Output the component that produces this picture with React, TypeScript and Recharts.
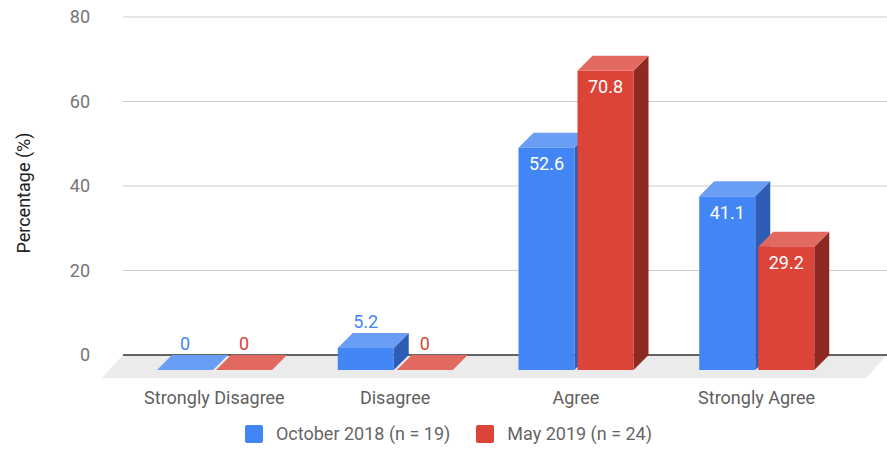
import React from 'react';
import { BarChart, Bar, XAxis, YAxis, CartesianGrid, LabelList } from 'recharts';

const categories = ['Strongly Disagree', 'Disagree', 'Agree', 'Strongly Agree'];
const october2018 = [0, 5.2, 52.6, 41.1];
const may2019 = [0, 0, 70.8, 29.2];
const yTicks = [0, 20, 40, 60, 80];

const SERIES = [
  { key: 'oct', name: 'October 2018 (n = 19)', front: '#4285f4', top: '#6a9ef6', side: '#2f5cb4' },
  { key: 'may', name: 'May 2019 (n = 24)', front: '#db4437', top: '#e2695f', side: '#8e2a22' },
];

const W = 887;
const H = 450;
const TOP = 17;
const Y_AXIS_W = 123;
const X_AXIS_H = 95;
const PLOT_BOTTOM = H - X_AXIS_H;
const DEPTH = 15; // 3D offset of a bar's front face
const FLOOR_DX = 21;
const FLOOR_DY = 23;
const FONT = 'Roboto, Arial, sans-serif';

const data = categories.map((name, i) => ({ name, oct: october2018[i], may: may2019[i] }));

// front face + top + right side, from the back-face rect recharts hands us
function makeBox(s: typeof SERIES[number]) {
  return (props: any) => {
    const { x, y, width: w, height: h } = props;
    if (x == null || y == null) return null;
    const d = DEPTH;
    return (
      <g>
        {h > 0 && (
          <polygon
            points={`${x - d + w},${y + d} ${x + w},${y} ${x + w},${y + h} ${x - d + w},${y + h + d}`}
            fill={s.side}
          />
        )}
        <polygon points={`${x - d},${y + d} ${x - d + w},${y + d} ${x + w},${y} ${x},${y}`} fill={s.top} />
        {h > 0 && <rect x={x - d} y={y + d} width={w} height={h} fill={s.front} />}
      </g>
    );
  };
}

function makeLabel(s: typeof SERIES[number]) {
  return (props: any) => {
    const { x, y, width, value } = props;
    const cx = x - DEPTH + width / 2;
    const inside = value >= 10;
    return (
      <text
        x={cx}
        y={inside ? y + DEPTH + 16 : y - 12}
        textAnchor="middle"
        dominantBaseline="central"
        fill={inside ? '#ffffff' : s.front}
        fontSize={18}
        fontFamily={FONT}
      >
        {value}
      </text>
    );
  };
}

const CategoryTick = (props: any) => {
  const { x, y, payload } = props;
  return (
    <text
      x={x - DEPTH}
      y={y + 42}
      textAnchor="middle"
      dominantBaseline="central"
      fill="#5f5f5f"
      fontSize={18}
      fontFamily={FONT}
    >
      {payload.value}
    </text>
  );
};

// gridlines; the baseline (0) is drawn dark
const GridLine = (props: any) => {
  const { x1, y1, x2, y2 } = props;
  const isBase = Math.abs(y1 - PLOT_BOTTOM) < 1;
  return (
    <line
      x1={x1}
      y1={y1}
      x2={x2}
      y2={y2}
      stroke={isBase ? '#333333' : '#cccccc'}
      strokeWidth={isBase ? 1.3 : 1}
    />
  );
};

export default function App() {
  return (
    <div style={{ position: 'absolute', left: 0, top: 0, width: W, height: H, fontFamily: FONT }}>
      {/* floor under the bars */}
      <svg width={W} height={H} style={{ position: 'absolute', left: 0, top: 0 }}>
        <polygon
          points={`${Y_AXIS_W},${PLOT_BOTTOM} ${W},${PLOT_BOTTOM} ${W - FLOOR_DX},${PLOT_BOTTOM + FLOOR_DY} ${Y_AXIS_W - FLOOR_DX},${PLOT_BOTTOM + FLOOR_DY}`}
          fill="#ebebeb"
        />
      </svg>
      <div style={{ position: 'absolute', left: 0, top: 0 }}>
        <BarChart
          width={W}
          height={H}
          data={data}
          margin={{ top: TOP, right: 0, left: 0, bottom: 0 }}
          barSize={56}
          barGap={3}
        >
          <CartesianGrid vertical={false} horizontal={(p: any) => <GridLine {...p} />} />
          <XAxis
            dataKey="name"
            height={X_AXIS_H}
            axisLine={false}
            tickLine={false}
            tickSize={0}
            tickMargin={0}
            padding={{ left: 16, right: 25 }}
            interval={0}
            tick={<CategoryTick />}
          />
          <YAxis
            width={Y_AXIS_W}
            domain={[0, 80]}
            ticks={yTicks}
            axisLine={false}
            tickLine={false}
            tickSize={0}
            tickMargin={33}
            tick={{ fill: '#757575', fontSize: 18, fontFamily: FONT }}
            label={{
              content: (p: any) => {
                const vb = p.viewBox;
                const cx = vb.x + 23;
                const cy = vb.y + vb.height / 2 + 7;
                return (
                  <text
                    x={cx}
                    y={cy}
                    transform={`rotate(-90 ${cx} ${cy})`}
                    textAnchor="middle"
                    dominantBaseline="central"
                    fill="#222222"
                    fontSize={18}
                    fontFamily={FONT}
                  >
                    Percentage (%)
                  </text>
                );
              },
            }}
          />
          {SERIES.map((s) => (
            <Bar key={s.key} dataKey={s.key} name={s.name} fill={s.front} shape={makeBox(s)} isAnimationActive={false}>
              <LabelList dataKey={s.key} content={makeLabel(s)} />
            </Bar>
          ))}
        </BarChart>
      </div>
      <div
        style={{
          position: 'absolute',
          left: 10,
          top: 425,
          width: W - 10,
          display: 'flex',
          justifyContent: 'center',
          alignItems: 'center',
          gap: 26,
          fontSize: 18,
          color: '#666666',
          lineHeight: '18px',
        }}
      >
        {SERIES.map((s) => (
          <div key={s.key} style={{ display: 'flex', alignItems: 'center' }}>
            <span style={{ width: 18, height: 18, background: s.front, borderRadius: 2, marginRight: 13, display: 'inline-block' }} />
            <span>{s.name}</span>
          </div>
        ))}
      </div>
    </div>
  );
}
